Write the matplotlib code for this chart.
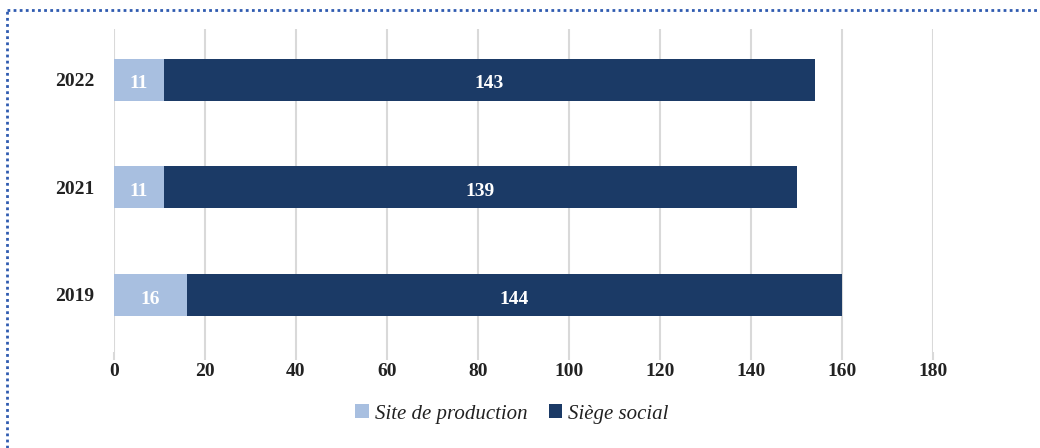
import numpy as np
import matplotlib.pyplot as plt
from matplotlib.lines import Line2D

years = ['2019', '2021', '2022']
site_production = [16, 11, 11]
siege_social = [144, 139, 143]
x_ticks = [0, 20, 40, 60, 80, 100, 120, 140, 160, 180]

light = '#a8bfe0'
dark = '#1b3a66'

plt.rcParams['font.family'] = ['Liberation Serif', 'DejaVu Serif']

fig = plt.figure(figsize=(10.4, 4.48), dpi=100)
ax = fig.add_axes([114/1040, 1-352/448, (933-114)/1040, (352-29)/448])

y = np.arange(len(years))
h = 0.39
b1 = ax.barh(y, site_production, height=h, color=light, label='Site de production', zorder=3)
b2 = ax.barh(y, siege_social, height=h, left=site_production, color=dark, label='Siège social', zorder=3)

# valeurs au centre des segments
for bars, vals in [(b1, site_production), (b2, siege_social)]:
    for rect, v in zip(bars, vals):
        ax.text(rect.get_x() + rect.get_width()/2, rect.get_y() + rect.get_height()/2 - 0.02, str(v),
                ha='center', va='center_baseline', color='white', fontsize=14,
                fontweight='bold', zorder=4)

ax.set_xlim(0, 180)
ax.set_ylim(-0.53, 2.47)
ax.set_xticks(x_ticks)
ax.set_yticks(y)
ax.set_yticklabels(years)
ax.grid(True, axis='x', color='#d9d9d9', lw=1.5, zorder=0)
for s in ax.spines.values():
    s.set_visible(False)
ax.tick_params(axis='y', length=0, pad=14, labelsize=14, labelcolor='#222222')
ax.tick_params(axis='x', length=6, width=1.5, color='#d9d9d9', pad=2, labelsize=14, labelcolor='#222222')
for lab in ax.get_xticklabels() + ax.get_yticklabels():
    lab.set_fontweight('bold')

leg = fig.legend(handles=[b1, b2], loc='center', bbox_to_anchor=(512/1040, 1-414/448), ncol=2,
                 frameon=False, prop={'style': 'italic', 'size': 15}, handlelength=0.65,
                 handleheight=0.65, handletextpad=0.3, columnspacing=1.0)
for t in leg.get_texts():
    t.set_color('#222222')

# cadre pointillé en haut et à gauche
fig.add_artist(Line2D([7/1040, 1], [1-10/448, 1-10/448], transform=fig.transFigure,
                      color='#2f5bb0', lw=2, ls=(0, (1, 1.2))))
fig.add_artist(Line2D([7/1040, 7/1040], [0, 1-10/448], transform=fig.transFigure,
                      color='#2f5bb0', lw=2, ls=(0, (1, 1.2))))

fig.savefig('out.png', dpi=100)
